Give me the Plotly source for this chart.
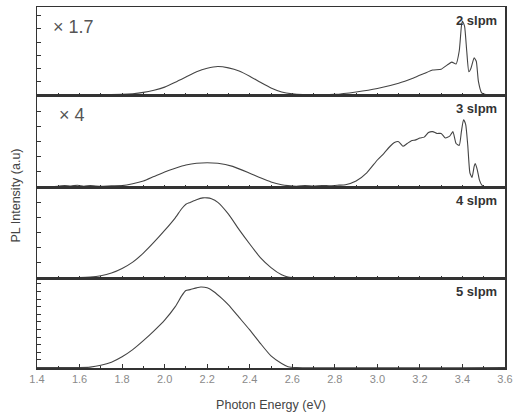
import plotly.graph_objects as go

# ---- data (intensity in panel-relative units) ----
x_2slpm = [1.40, 1.50, 1.60, 1.70, 1.80, 1.85, 1.90, 1.95, 2.00, 2.05, 2.10, 2.15, 2.20, 2.25,
           2.30, 2.35, 2.40, 2.45, 2.50, 2.55, 2.60, 2.65, 2.70, 2.80, 2.90, 3.00, 3.10, 3.17,
           3.22, 3.26, 3.30, 3.33, 3.35, 3.37, 3.385, 3.395, 3.40, 3.41, 3.42, 3.43, 3.44,
           3.455, 3.465, 3.475, 3.49, 3.51, 3.60]
y_2slpm = [0.0, 0.0, 0.0, 0.0, 0.003, 0.01, 0.025, 0.05, 0.085, 0.14, 0.20, 0.26, 0.30, 0.32,
           0.305, 0.27, 0.21, 0.14, 0.075, 0.03, 0.008, 0.0, 0.0, 0.002, 0.03, 0.07, 0.13, 0.19,
           0.24, 0.28, 0.29, 0.34, 0.37, 0.35, 0.50, 0.78, 0.84, 0.78, 0.50, 0.26, 0.30,
           0.42, 0.38, 0.15, 0.02, 0.0, 0.0]

x_3slpm = [1.40, 1.50, 1.53, 1.56, 1.59, 1.62, 1.65, 1.70, 1.75, 1.80, 1.85, 1.90, 1.95, 2.00,
           2.05, 2.10, 2.15, 2.20, 2.25, 2.32, 2.40, 2.45, 2.50, 2.55, 2.58, 2.62, 2.66, 2.70,
           2.74, 2.78, 2.82, 2.85, 2.90, 2.95, 3.00, 3.03, 3.06, 3.08, 3.10, 3.12, 3.14, 3.16,
           3.18, 3.20, 3.22, 3.24, 3.26, 3.28, 3.30, 3.32, 3.34, 3.355, 3.37, 3.385, 3.395,
           3.405, 3.415, 3.425, 3.435, 3.445, 3.455, 3.46, 3.47, 3.48, 3.49, 3.50, 3.60]
y_3slpm = [0.0, 0.004, 0.012, 0.006, 0.014, 0.004, 0.01, 0.003, 0.008, 0.01, 0.03, 0.06, 0.11, 0.16,
           0.20, 0.235, 0.255, 0.26, 0.255, 0.22, 0.145, 0.095, 0.05, 0.02, 0.01, 0.004, 0.01, 0.006,
           0.012, 0.008, 0.015, 0.02, 0.06, 0.15, 0.29, 0.36, 0.44, 0.48, 0.49, 0.44, 0.47, 0.50,
           0.51, 0.53, 0.54, 0.59, 0.60, 0.58, 0.58, 0.53, 0.55, 0.60, 0.47, 0.45, 0.60,
           0.73, 0.68, 0.45, 0.15, 0.10, 0.22, 0.25, 0.18, 0.07, 0.02, 0.0, 0.0]

x_4slpm = [1.40, 1.60, 1.65, 1.70, 1.75, 1.80, 1.85, 1.90, 1.95, 2.00, 2.05, 2.08, 2.10, 2.12,
           2.15, 2.18, 2.20, 2.22, 2.25, 2.30, 2.35, 2.40, 2.45, 2.50, 2.55, 2.58, 2.60, 3.60]
y_4slpm = [0.0, 0.0, 0.005, 0.02, 0.05, 0.10, 0.17, 0.27, 0.39, 0.52, 0.66, 0.76, 0.81, 0.83,
           0.86, 0.88, 0.88, 0.87, 0.83, 0.70, 0.53, 0.37, 0.22, 0.11, 0.03, 0.005, 0.0, 0.0]

x_5slpm = [1.40, 1.60, 1.65, 1.70, 1.75, 1.80, 1.85, 1.90, 1.95, 2.00, 2.05, 2.08, 2.10, 2.12,
           2.15, 2.17, 2.20, 2.23, 2.27, 2.30, 2.35, 2.40, 2.45, 2.50, 2.55, 2.58, 2.62, 3.60]
y_5slpm = [0.0, 0.0, 0.005, 0.025, 0.06, 0.12, 0.20, 0.30, 0.41, 0.53, 0.68, 0.80, 0.86, 0.87,
           0.89, 0.90, 0.89, 0.85, 0.77, 0.70, 0.56, 0.42, 0.27, 0.13, 0.045, 0.01, 0.0, 0.0]

panel_labels = ["2 slpm", "3 slpm", "4 slpm", "5 slpm"]
scale_labels = ["× 1.7", "× 4"]
x_tick_vals = [1.4, 1.6, 1.8, 2.0, 2.2, 2.4, 2.6, 2.8, 3.0, 3.2, 3.4, 3.6]
x_tick_text = ["1.4", "1.6", "1.8", "2.0", "2.2", "2.4", "2.6", "2.8", "3.0", "3.2", "3.4", "3.6"]

series = [(x_2slpm, y_2slpm), (x_3slpm, y_3slpm), (x_4slpm, y_4slpm), (x_5slpm, y_5slpm)]

W, H = 514, 416
L, R, T, B = 37, 9, 7, 48
plot_h = H - T - B
bounds_px = [7, 95, 187, 278, 368]
domains = []
for i in range(4):
    top = 1 - (bounds_px[i] - T) / plot_h
    bot = 1 - (bounds_px[i + 1] - T) / plot_h
    domains.append([max(0, bot), min(1, top)])

line_col = "#444444"
axis_col = "#333333"
fig = go.Figure()
ydticks = [0.15, 0.165, 0.165, 0.085]

for i, (xs, ys) in enumerate(series):
    n = "" if i == 0 else str(i + 1)
    fig.add_trace(go.Scatter(x=xs, y=ys, mode="lines",
                             line=dict(color=line_col, width=1.1, shape="spline", smoothing=0.5),
                             xaxis="x" + n, yaxis="y" + n, showlegend=False, hoverinfo="skip"))
    last = (i == 3)
    fig.layout["xaxis" + n] = dict(
        domain=[0, 1], anchor="y" + n, range=[1.4, 3.6], automargin=False,
        showline=True, linecolor=axis_col, linewidth=1.5, mirror=True,
        ticks="inside", ticklen=4, tickwidth=1, tickcolor=axis_col,
        tickvals=x_tick_vals, ticktext=x_tick_text if last else [""] * len(x_tick_vals),
        showticklabels=last,
        minor=dict(ticks="inside", ticklen=2, dtick=0.1, tick0=1.4, tickcolor=axis_col),
        showgrid=False, zeroline=False,
        tickfont=dict(family="Liberation Sans, Arial", size=11, color="#8a8a8a"),
        title=dict(text="Photon Energy (eV)" if last else "",
                   font=dict(family="Liberation Sans, Arial", size=12.5, color="#444444"),
                   standoff=16),
        matches=None if i == 0 else "x",
    )
    fig.layout["yaxis" + n] = dict(
        domain=domains[i], anchor="x" + n, range=[-0.005, 1.0], automargin=False,
        showline=True, linecolor=axis_col, linewidth=1.5, mirror=True,
        ticks="inside", ticklen=4, tickcolor=axis_col, dtick=ydticks[i], tick0=0,
        showticklabels=False, showgrid=False, zeroline=False,
    )
    fig.add_annotation(x=1, y=domains[i][1], xref="paper", yref="paper",
                       text="<b>" + panel_labels[i] + "</b>", showarrow=False,
                       xanchor="right", yanchor="top", xshift=-6, yshift=-4,
                       font=dict(family="Liberation Sans, Arial", size=13, color="#333333"))

for i, s in enumerate(scale_labels):
    fig.add_annotation(x=0, y=domains[i][1], xref="paper", yref="paper",
                       text=s, showarrow=False, xanchor="left", yanchor="top",
                       xshift=14 if i == 0 else 20, yshift=-8,
                       font=dict(family="Liberation Sans, Arial", size=18, color="#555555"))

fig.add_annotation(x=0, y=0.5, xref="paper", yref="paper", text="PL Intensity (a.u)",
                   textangle=-90, showarrow=False, xanchor="center", yanchor="middle",
                   xshift=-22, yshift=-8,
                   font=dict(family="Liberation Sans, Arial", size=12.5, color="#444444"))

fig.update_layout(width=W, height=H, margin=dict(l=L, r=R, t=T, b=B),
                  paper_bgcolor="white", plot_bgcolor="white")
fig.write_html("out.html", config={"displayModeBar": False, "staticPlot": True},
               post_script="document.body.style.margin='0';document.body.style.overflow='hidden';")
